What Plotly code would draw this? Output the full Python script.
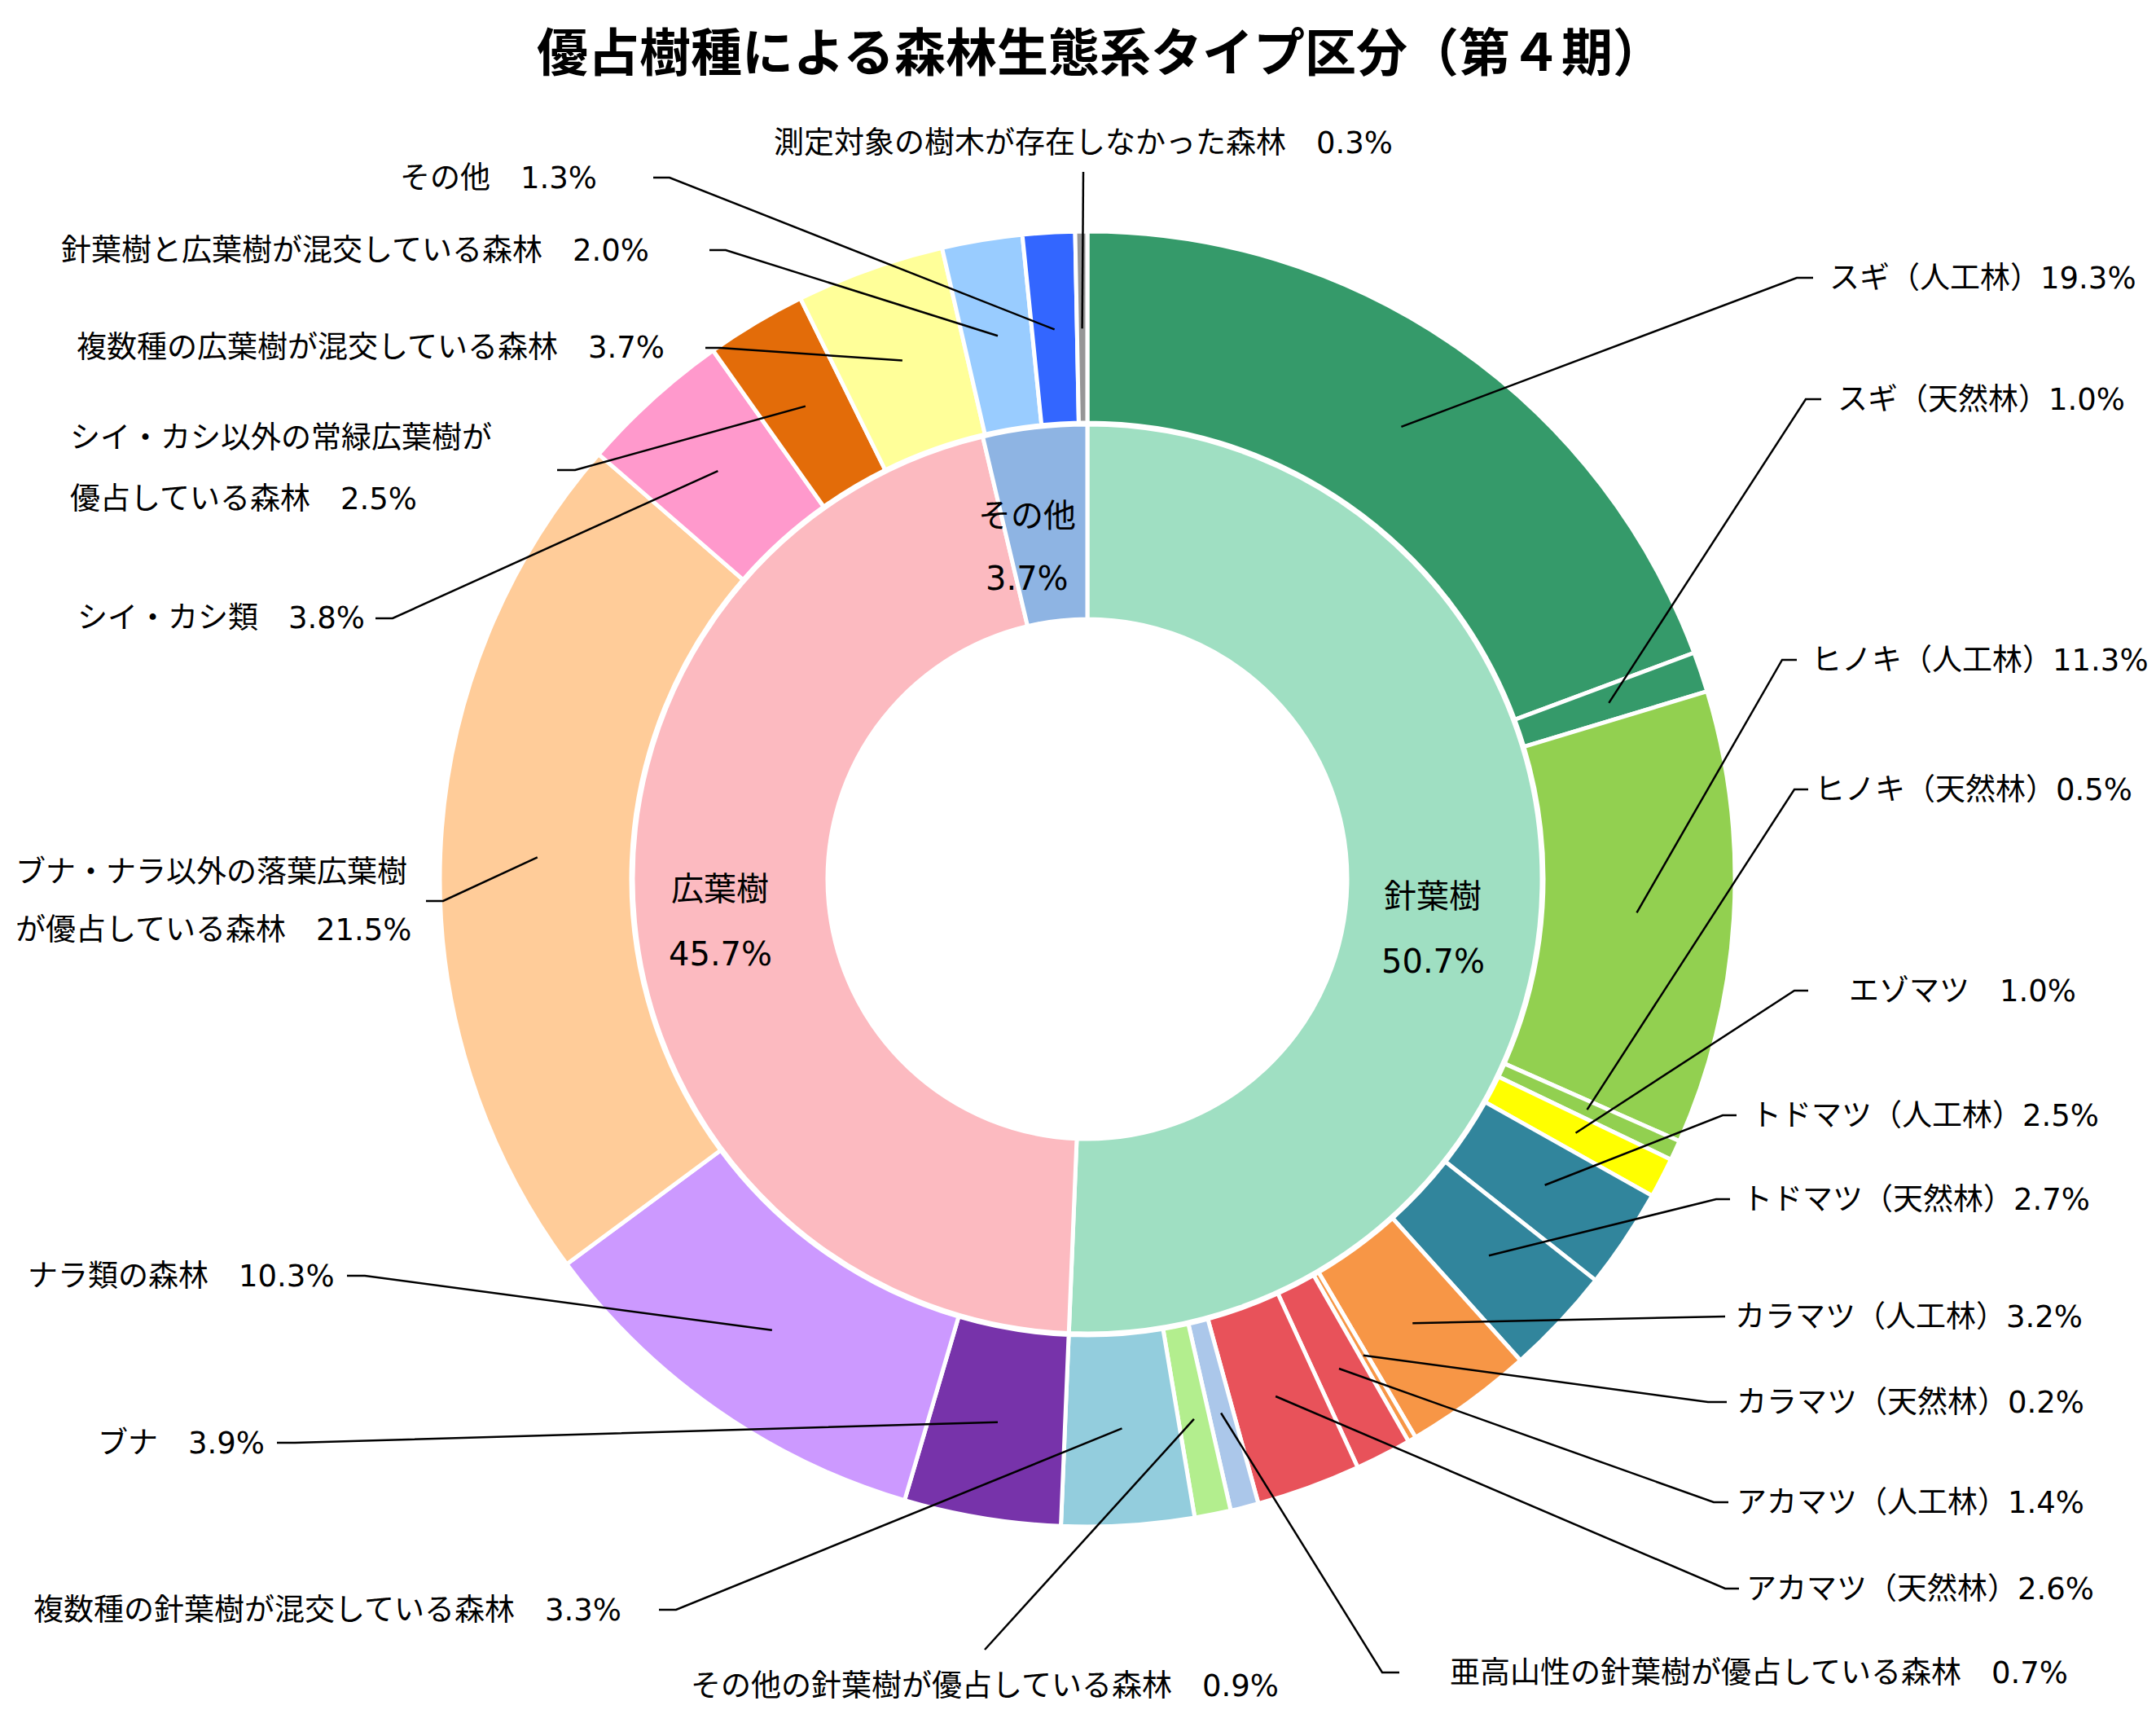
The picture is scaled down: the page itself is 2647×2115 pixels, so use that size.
import math
import plotly.graph_objects as go

# ---------------- data ----------------
inner_labels = ["針葉樹", "広葉樹", "その他"]
inner_values = [50.7, 45.7, 3.7]

outer_labels = [
    "スギ（人工林）", "スギ（天然林）", "ヒノキ（人工林）", "ヒノキ（天然林）", "エゾマツ",
    "トドマツ（人工林）", "トドマツ（天然林）", "カラマツ（人工林）", "カラマツ（天然林）",
    "アカマツ（人工林）", "アカマツ（天然林）", "亜高山性の針葉樹が優占している森林",
    "その他の針葉樹が優占している森林", "複数種の針葉樹が混交している森林", "ブナ", "ナラ類の森林",
    "ブナ・ナラ以外の落葉広葉樹が優占している森林", "シイ・カシ類",
    "シイ・カシ以外の常緑広葉樹が優占している森林", "複数種の広葉樹が混交している森林",
    "針葉樹と広葉樹が混交している森林", "その他", "測定対象の樹木が存在しなかった森林",
]
outer_values = [19.3, 1.0, 11.3, 0.5, 1.0, 2.5, 2.7, 3.2, 0.2, 1.4, 2.6, 0.7,
                0.9, 3.3, 3.9, 10.3, 21.5, 3.8, 2.5, 3.7, 2.0, 1.3, 0.3]

title_text = "優占樹種による森林生態系タイプ区分（第４期）"

# ---------------- style / layout ----------------
inner_colors = ["#9FDFC2", "#FCBAC0", "#8EB4E3"]
outer_colors = ["#359A6A", "#359A6A", "#92D050", "#92D050", "#FFFF00", "#31859C", "#31859C",
                "#F79646", "#F79646", "#E8525A", "#E8525A", "#ABC7EA", "#B3EE8E", "#93CDDD",
                "#7733AA", "#CC99FF", "#FFCC99", "#FF99CC", "#E36C09", "#FFFF99", "#99CCFF",
                "#3366FF", "#969696"]

W, H = 2647, 2115
CX, CY = 1335, 1079
R_OUT = 795
R_MID = 558
R_HOLE = 319
OUT_HOLE = 560 / R_OUT
IN_HOLE = R_HOLE / R_MID
R_ANCHOR = 0.85 * R_OUT

FONT = "DejaVu Sans, Noto Sans CJK JP, sans-serif"
LBL_SIZE = 37
INNER_SIZE = 40

# label placement (pixels): side, elbow x, elbow y, segment end x, text x, text y(s)
LABEL_GEOM = [
    ("r", 2206, 341, 2226, 2244, 341),
    ("r", 2217, 490, 2236, 2254, 490),
    ("r", 2188, 810, 2206, 2222, 810),
    ("r", 2203, 969, 2220, 2226, 969),
    ("r", 2203, 1216, 2220, 2268, 1216),
    ("r", 2115, 1369, 2132, 2148, 1369),
    ("r", 2107, 1472, 2124, 2137, 1472),
    ("r", 2118, 1616, 2118, 2128, 1616),
    ("r", 2097, 1721, 2120, 2130, 1721),
    ("r", 2104, 1844, 2122, 2130, 1844),
    ("r", 2118, 1950, 2135, 2142, 1950),
    ("r", 1697, 2053, 1718, 1778, 2053),
    ("b", 1209, 2025, None, 1209, 2069),
    ("l", 830, 1976, 809, 765, 1976),
    ("l", 362, 1771, 340, 327, 1771),
    ("l", 448, 1566, 426, 413, 1566),
    ("l2", 544, 1106, 523, 17, (1070, 1141)),
    ("l", 482, 759, 461, 450, 759),
    ("l2", 706, 577, 684, 84, (538, 612)),
    ("l", 884, 427, 866, 818, 427),
    ("l", 891, 307, 871, 799, 307),
    ("l", 822, 218, 802, 735, 218),
    ("t", 1330, 211, None, 1330, 175),
]
WRAP_AT = {16: 13, 18: 14}
INNER_TEXT_POS = [(1759, 1100, 1180), (884, 1091, 1171), (1261, 633, 710)]


def px(x):
    return x / W


def py(y):
    return 1 - y / H


def fmt_label(name, v):
    sep = "" if name.endswith("）") else "\u3000"
    return f"{name}{sep}{v:.1f}%"


fig = go.Figure()

fig.add_trace(go.Pie(
    labels=outer_labels, values=outer_values, sort=False, direction="clockwise", rotation=0,
    hole=OUT_HOLE, textinfo="none", hoverinfo="label+value",
    marker=dict(colors=outer_colors, line=dict(color="white", width=5)),
    domain=dict(x=[px(CX - R_OUT), px(CX + R_OUT)], y=[py(CY + R_OUT), py(CY - R_OUT)]),
    showlegend=False,
))
fig.add_trace(go.Pie(
    labels=inner_labels, values=inner_values, sort=False, direction="clockwise", rotation=0,
    hole=IN_HOLE, textinfo="none", hoverinfo="label+value",
    marker=dict(colors=inner_colors, line=dict(color="white", width=5)),
    domain=dict(x=[px(CX - R_MID), px(CX + R_MID)], y=[py(CY + R_MID), py(CY - R_MID)]),
    showlegend=False,
))

annotations = []
shapes = []

total = sum(outer_values)
cum = 0.0
for i, (name, v) in enumerate(zip(outer_labels, outer_values)):
    mid = (cum + v / 2) / total
    cum += v
    th = 2 * math.pi * mid
    ax = CX + R_ANCHOR * math.sin(th)
    ay = CY - R_ANCHOR * math.cos(th)
    side, ex, ey, sx, tx, ty = LABEL_GEOM[i]
    path = f"M {px(ax)} {py(ay)} L {px(ex)} {py(ey)}"
    if sx is not None and sx != ex:
        path += f" L {px(sx)} {py(ey)}"
    shapes.append(dict(type="path", xref="paper", yref="paper", path=path,
                       line=dict(color="black", width=2.5)))
    text = fmt_label(name, v)
    if side == "l2":
        k = WRAP_AT[i]
        parts = [name[:k], fmt_label(name[k:], v)]
        for part, yy in zip(parts, ty):
            annotations.append(dict(x=px(tx), y=py(yy), xref="paper", yref="paper", text=part,
                                    showarrow=False, xanchor="left", yanchor="middle",
                                    font=dict(family=FONT, size=LBL_SIZE, color="black")))
        continue
    xanchor = {"r": "left", "l": "right", "t": "center", "b": "center"}[side]
    annotations.append(dict(x=px(tx), y=py(ty), xref="paper", yref="paper", text=text,
                            showarrow=False, xanchor=xanchor, yanchor="middle",
                            font=dict(family=FONT, size=LBL_SIZE, color="black")))

for (name, v), (x, y1, y2) in zip(zip(inner_labels, inner_values), INNER_TEXT_POS):
    annotations.append(dict(x=px(x), y=py(y1), xref="paper", yref="paper", text=name,
                            showarrow=False, xanchor="center", yanchor="middle",
                            font=dict(family=FONT, size=INNER_SIZE, color="black")))
    annotations.append(dict(x=px(x), y=py(y2), xref="paper", yref="paper", text=f"{v:.1f}%",
                            showarrow=False, xanchor="center", yanchor="middle",
                            font=dict(family=FONT, size=INNER_SIZE, color="black")))

fig.update_layout(
    width=W, height=H,
    margin=dict(l=0, r=0, t=0, b=0),
    paper_bgcolor="white", plot_bgcolor="white",
    title=dict(text=title_text, x=1351 / W, xanchor="center", y=py(65), yanchor="middle",
               font=dict(family="Noto Sans CJK JP", size=63, color="black", weight="bold")),
    annotations=annotations,
    shapes=shapes,
)

fig.write_html("out.html")
